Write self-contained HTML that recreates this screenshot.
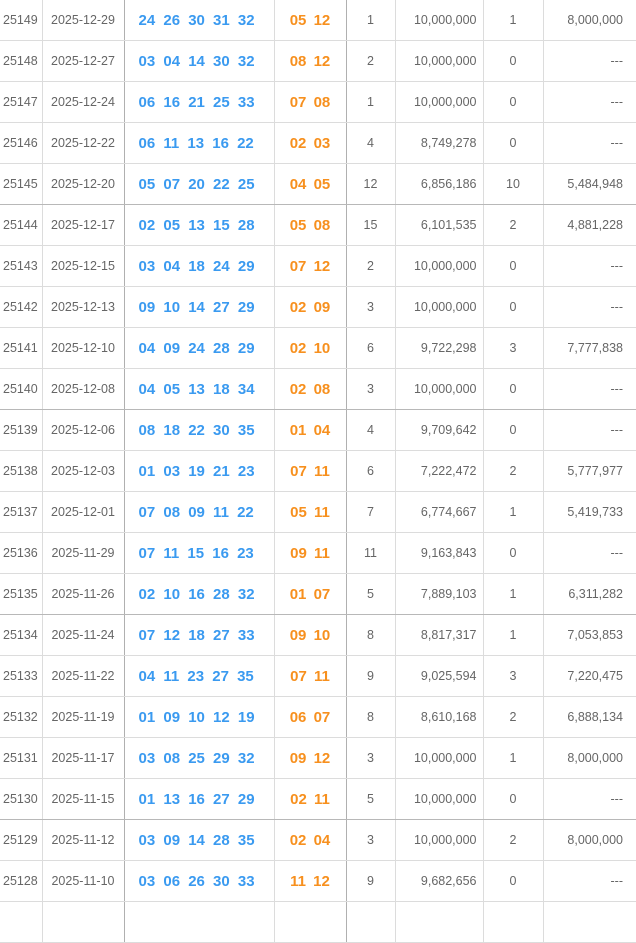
<!DOCTYPE html><html><head><style>
body{margin:0;width:636px;height:906px;overflow:hidden;background:#fff;font-family:"Liberation Sans",sans-serif}
table{border-collapse:collapse;table-layout:fixed;width:636px}
td{height:40px;padding:0;border-right:1px solid #dcdcdc;border-bottom:1px solid #dcdcdc;font-size:12.5px;color:#666;white-space:nowrap}
tr.g td{border-bottom:1px solid #b8b8b8}
td.c2,td.c4{border-right:1px solid #b0b0b0}
td.c1{padding-left:3px}
td.c2,td.c5,td.c7{text-align:center}
td.c6{text-align:right;padding-right:6px}
td.c8{text-align:right;padding-right:13px;border-right:none}
td.c3{padding-left:14px;color:#3a9af0;font-weight:bold;font-size:15px;word-spacing:4px}
td.c4{text-align:center;color:#f7901e;font-weight:bold;font-size:15px;word-spacing:3px}
</style></head><body><table>
<colgroup><col style="width:42px"><col style="width:82px"><col style="width:150px"><col style="width:72px"><col style="width:49px"><col style="width:88px"><col style="width:60px"><col style="width:93px"></colgroup>
<tbody id="b">
<tr><td class="c1">25149</td><td class="c2">2025-12-29</td><td class="c3">24 26 30 31 32</td><td class="c4">05 12</td><td class="c5">1</td><td class="c6">10,000,000</td><td class="c7">1</td><td class="c8">8,000,000</td></tr>
<tr><td class="c1">25148</td><td class="c2">2025-12-27</td><td class="c3">03 04 14 30 32</td><td class="c4">08 12</td><td class="c5">2</td><td class="c6">10,000,000</td><td class="c7">0</td><td class="c8">---</td></tr>
<tr><td class="c1">25147</td><td class="c2">2025-12-24</td><td class="c3">06 16 21 25 33</td><td class="c4">07 08</td><td class="c5">1</td><td class="c6">10,000,000</td><td class="c7">0</td><td class="c8">---</td></tr>
<tr><td class="c1">25146</td><td class="c2">2025-12-22</td><td class="c3">06 11 13 16 22</td><td class="c4">02 03</td><td class="c5">4</td><td class="c6">8,749,278</td><td class="c7">0</td><td class="c8">---</td></tr>
<tr class="g"><td class="c1">25145</td><td class="c2">2025-12-20</td><td class="c3">05 07 20 22 25</td><td class="c4">04 05</td><td class="c5">12</td><td class="c6">6,856,186</td><td class="c7">10</td><td class="c8">5,484,948</td></tr>
<tr><td class="c1">25144</td><td class="c2">2025-12-17</td><td class="c3">02 05 13 15 28</td><td class="c4">05 08</td><td class="c5">15</td><td class="c6">6,101,535</td><td class="c7">2</td><td class="c8">4,881,228</td></tr>
<tr><td class="c1">25143</td><td class="c2">2025-12-15</td><td class="c3">03 04 18 24 29</td><td class="c4">07 12</td><td class="c5">2</td><td class="c6">10,000,000</td><td class="c7">0</td><td class="c8">---</td></tr>
<tr><td class="c1">25142</td><td class="c2">2025-12-13</td><td class="c3">09 10 14 27 29</td><td class="c4">02 09</td><td class="c5">3</td><td class="c6">10,000,000</td><td class="c7">0</td><td class="c8">---</td></tr>
<tr><td class="c1">25141</td><td class="c2">2025-12-10</td><td class="c3">04 09 24 28 29</td><td class="c4">02 10</td><td class="c5">6</td><td class="c6">9,722,298</td><td class="c7">3</td><td class="c8">7,777,838</td></tr>
<tr class="g"><td class="c1">25140</td><td class="c2">2025-12-08</td><td class="c3">04 05 13 18 34</td><td class="c4">02 08</td><td class="c5">3</td><td class="c6">10,000,000</td><td class="c7">0</td><td class="c8">---</td></tr>
<tr><td class="c1">25139</td><td class="c2">2025-12-06</td><td class="c3">08 18 22 30 35</td><td class="c4">01 04</td><td class="c5">4</td><td class="c6">9,709,642</td><td class="c7">0</td><td class="c8">---</td></tr>
<tr><td class="c1">25138</td><td class="c2">2025-12-03</td><td class="c3">01 03 19 21 23</td><td class="c4">07 11</td><td class="c5">6</td><td class="c6">7,222,472</td><td class="c7">2</td><td class="c8">5,777,977</td></tr>
<tr><td class="c1">25137</td><td class="c2">2025-12-01</td><td class="c3">07 08 09 11 22</td><td class="c4">05 11</td><td class="c5">7</td><td class="c6">6,774,667</td><td class="c7">1</td><td class="c8">5,419,733</td></tr>
<tr><td class="c1">25136</td><td class="c2">2025-11-29</td><td class="c3">07 11 15 16 23</td><td class="c4">09 11</td><td class="c5">11</td><td class="c6">9,163,843</td><td class="c7">0</td><td class="c8">---</td></tr>
<tr class="g"><td class="c1">25135</td><td class="c2">2025-11-26</td><td class="c3">02 10 16 28 32</td><td class="c4">01 07</td><td class="c5">5</td><td class="c6">7,889,103</td><td class="c7">1</td><td class="c8">6,311,282</td></tr>
<tr><td class="c1">25134</td><td class="c2">2025-11-24</td><td class="c3">07 12 18 27 33</td><td class="c4">09 10</td><td class="c5">8</td><td class="c6">8,817,317</td><td class="c7">1</td><td class="c8">7,053,853</td></tr>
<tr><td class="c1">25133</td><td class="c2">2025-11-22</td><td class="c3">04 11 23 27 35</td><td class="c4">07 11</td><td class="c5">9</td><td class="c6">9,025,594</td><td class="c7">3</td><td class="c8">7,220,475</td></tr>
<tr><td class="c1">25132</td><td class="c2">2025-11-19</td><td class="c3">01 09 10 12 19</td><td class="c4">06 07</td><td class="c5">8</td><td class="c6">8,610,168</td><td class="c7">2</td><td class="c8">6,888,134</td></tr>
<tr><td class="c1">25131</td><td class="c2">2025-11-17</td><td class="c3">03 08 25 29 32</td><td class="c4">09 12</td><td class="c5">3</td><td class="c6">10,000,000</td><td class="c7">1</td><td class="c8">8,000,000</td></tr>
<tr class="g"><td class="c1">25130</td><td class="c2">2025-11-15</td><td class="c3">01 13 16 27 29</td><td class="c4">02 11</td><td class="c5">5</td><td class="c6">10,000,000</td><td class="c7">0</td><td class="c8">---</td></tr>
<tr><td class="c1">25129</td><td class="c2">2025-11-12</td><td class="c3">03 09 14 28 35</td><td class="c4">02 04</td><td class="c5">3</td><td class="c6">10,000,000</td><td class="c7">2</td><td class="c8">8,000,000</td></tr>
<tr><td class="c1">25128</td><td class="c2">2025-11-10</td><td class="c3">03 06 26 30 33</td><td class="c4">11 12</td><td class="c5">9</td><td class="c6">9,682,656</td><td class="c7">0</td><td class="c8">---</td></tr>
<tr><td class="c1"></td><td class="c2"></td><td class="c3"></td><td class="c4"></td><td class="c5"></td><td class="c6"></td><td class="c7"></td><td class="c8"></td></tr>
</tbody></table></body></html>
